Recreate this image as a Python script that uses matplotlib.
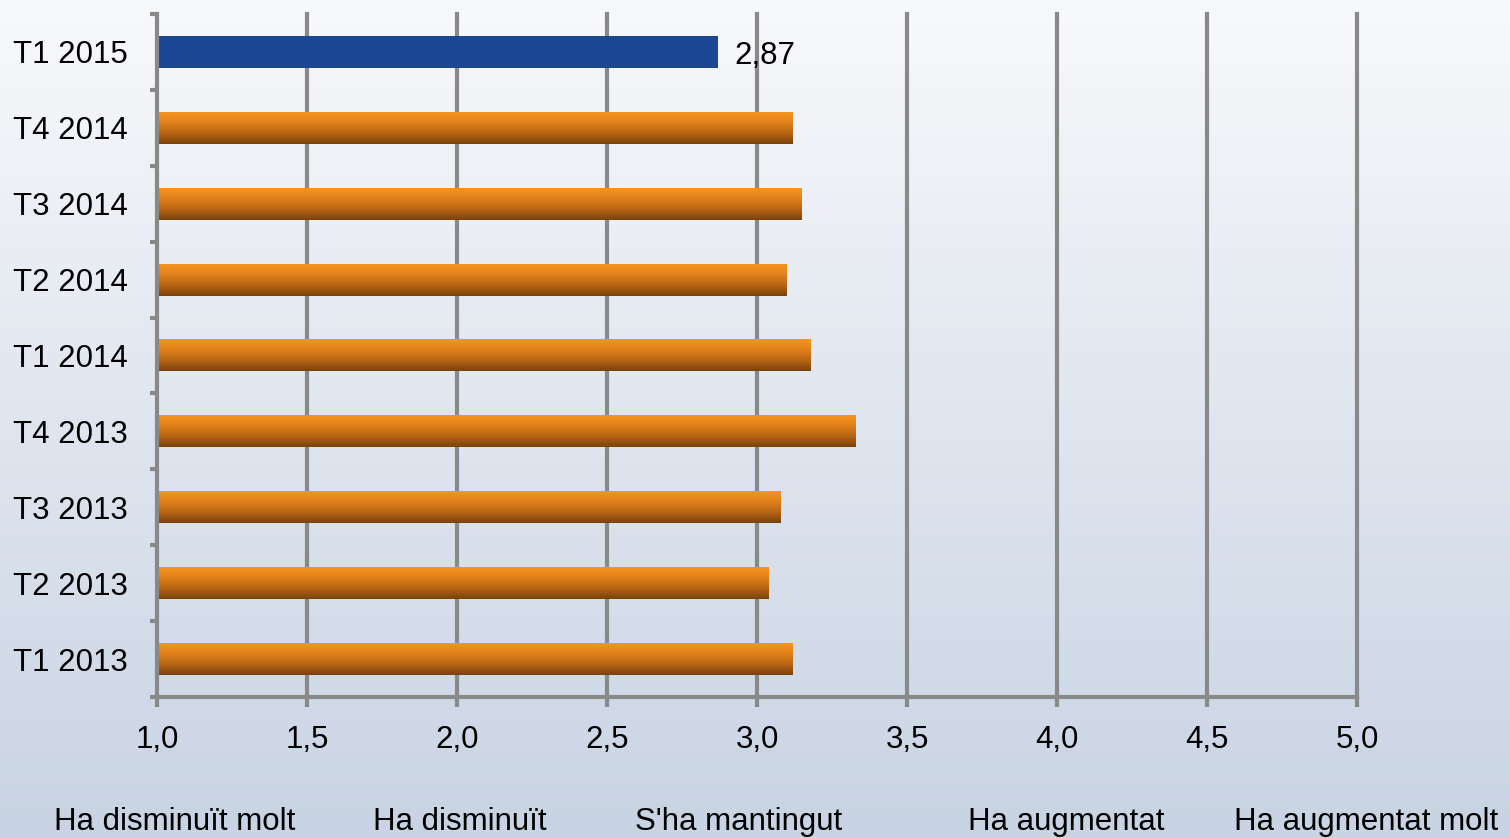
import matplotlib
matplotlib.use('agg')
import matplotlib.pyplot as plt
import matplotlib.transforms as mtransforms
from matplotlib.colors import LinearSegmentedColormap
import numpy as np

plt.rcParams['font.family'] = ['Liberation Sans', 'DejaVu Sans']

# data (bottom to top)
periods = ['T1 2013', 'T2 2013', 'T3 2013', 'T4 2013', 'T1 2014',
           'T2 2014', 'T3 2014', 'T4 2014', 'T1 2015']
values = [3.12, 3.04, 3.08, 3.33, 3.18, 3.10, 3.15, 3.12, 2.87]
x_ticks = [1.0, 1.5, 2.0, 2.5, 3.0, 3.5, 4.0, 4.5, 5.0]
scale_labels = ['Ha disminuït molt', 'Ha disminuït', "S'ha mantingut",
                'Ha augmentat', 'Ha augmentat molt']
scale_pos = [1.06, 2.01, 2.94, 4.03, 5.03]

GRID = '#898989'
BLUE = '#1C4792'
FS = 22.5
orange_cmap = LinearSegmentedColormap.from_list(
    'orange', ['#F6951F', '#E0801B', '#B86514', '#7A420C'])
bg_cmap = LinearSegmentedColormap.from_list('bg', ['#F8F9FB', '#C8D3E3'])

fig = plt.figure(figsize=(15.1, 8.38), dpi=100)

# background gradient
bg = fig.add_axes([0, 0, 1, 1], zorder=-10)
bg.imshow(np.linspace(0, 1, 256).reshape(-1, 1), cmap=bg_cmap,
          aspect='auto', extent=(0, 1, 0, 1))
bg.set_axis_off()

ax = fig.add_axes([0.104, 0.1683, 0.7947, 0.815])
ax.set_facecolor('none')

n = len(periods)
ypos = np.arange(n)
bar_h = 0.42

grad = np.linspace(0, 1, 64).reshape(-1, 1)
for i, v in enumerate(values):
    y0, y1 = ypos[i] - bar_h / 2, ypos[i] + bar_h / 2
    if i == n - 1:
        ax.barh(ypos[i], v - 1.0, left=1.0, height=bar_h, color=BLUE, zorder=3)
        ax.text(v + 0.055, ypos[i] - 0.05, f'{v:.2f}'.replace('.', ','),
                va='center', ha='left', fontsize=FS, color='black')
    else:
        ax.imshow(grad, cmap=orange_cmap, aspect='auto', origin='upper',
                  extent=(1.0, v, y0, y1), zorder=3, interpolation='bilinear')

ax.set_xlim(1.0, 5.0)
ax.set_ylim(-0.5, n - 0.5)

# grid and spines
for x in x_ticks[1:]:
    ax.axvline(x, color=GRID, lw=3, zorder=1, clip_on=False)
for side in ['top', 'right']:
    ax.spines[side].set_visible(False)
for side in ['left', 'bottom']:
    ax.spines[side].set_color(GRID)
    ax.spines[side].set_linewidth(3)
    ax.spines[side].set_zorder(4)

ax.set_xticks(x_ticks)
ax.set_xticklabels([f'{t:.1f}'.replace('.', ',') for t in x_ticks], fontsize=FS)
ax.tick_params(axis='x', length=7, width=3, color=GRID, pad=13)

ax.set_yticks(ypos)
ax.set_yticklabels(periods, fontsize=FS)
ax.set_yticks(np.arange(-0.5, n), minor=True)
ax.tick_params(axis='y', which='major', length=0, pad=21)
ax.tick_params(axis='y', which='minor', length=5, width=3, color=GRID)

trans = mtransforms.blended_transform_factory(ax.transData, fig.transFigure)
for lab, x in zip(scale_labels, scale_pos):
    ax.text(x, 0.0185, lab, transform=trans, ha='center', va='center',
            fontsize=FS, clip_on=False)

plt.savefig('out.png', dpi=100)
plt.close()
